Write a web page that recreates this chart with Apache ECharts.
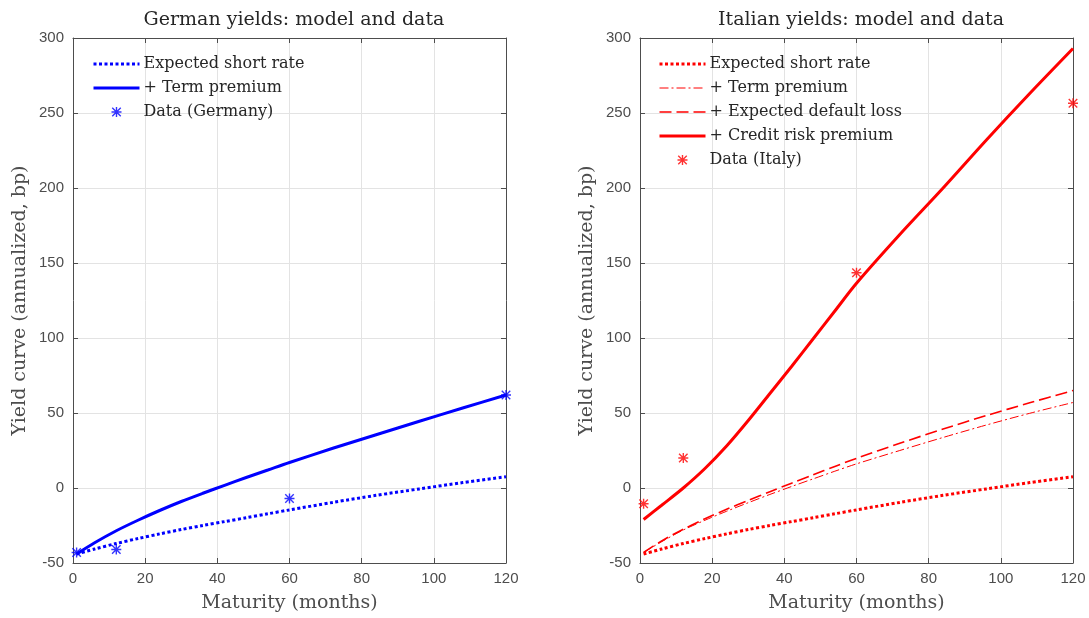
<!DOCTYPE html>
<html>
<head>
<meta charset="utf-8">
<style>
  html, body { margin: 0; padding: 0; background: #fff; }
  #chart { width: 1089px; height: 618px; }
</style>
<script src="https://cdn.jsdelivr.net/npm/echarts@6/dist/echarts.min.js"></script>
</head>
<body>
<div id="chart"></div>
<script>
// maturities (months) for the model curves
const maturities = [1, 6, 12, 18, 24, 30, 36, 42, 48, 54, 60, 72, 84, 96, 108, 120];

// Germany
const deShortRate = [-44, -40.7, -37, -33.7, -30.6, -27.7, -25, -22.4, -19.8, -17.2, -14.6, -9.6, -4.9, -0.6, 3.6, 7.5];
const deTermPremium = [-44, -36.5, -28.5, -21.5, -15, -9, -3.5, 1.8, 7, 12, 17, 26.5, 35.5, 44.5, 53.3, 62];

// Italy
const itShortRate = [-44, -40.7, -37, -33.7, -30.6, -27.7, -25, -22.4, -19.8, -17.2, -14.6, -9.6, -4.9, -0.6, 3.6, 7.5];
const itTermPremium = [-43, -35.8, -28, -21.5, -15.5, -9.8, -4.3, 1, 6.1, 11.2, 16.1, 25, 33.7, 42, 49.8, 57];
const itDefaultLoss = [-43, -35.3, -27.5, -20.5, -14.2, -8.3, -2.5, 3.2, 8.8, 14.4, 19.8, 29.8, 39.3, 48.3, 56.8, 65];
const itCreditPremium = [-21, -11.5, 0, 13, 28, 45, 63, 81, 99.5, 118, 136.5, 169, 200, 232, 263, 293];

// observed yields
const dataMaturities = [1, 12, 60, 120];
const deData = [-43, -41, -7, 62];
const itData = [-10.5, 20, 143.5, 256.5];

const xTicks = { min: 0, max: 120, interval: 20 };
const yTicks = { min: -50, max: 300, interval: 50 };

const pairs = (xs, ys) => xs.map((x, i) => [x, ys[i]]);

// asterisk marker ("+" and "x" on top of each other)
const star = 'path://M8.6,0L11.4,0L11.4,20L8.6,20Z M0,8.6L20,8.6L20,11.4L0,11.4Z ' +
  'M2.49,0.51L19.49,17.51L17.51,19.49L0.51,2.49Z ' +
  'M19.49,2.49L2.49,19.49L0.51,17.51L17.51,0.51Z';

const serif = 'DejaVu Serif';
const sans = 'Liberation Sans';
const axisGray = '#4d4d4d';

const chart = echarts.init(document.getElementById('chart'));

function xAxisFor(gridIndex, top) {
  return {
    type: 'value', gridIndex: gridIndex, position: top ? 'top' : 'bottom',
    min: xTicks.min, max: xTicks.max, interval: xTicks.interval,
    name: top ? '' : 'Maturity (months)',
    nameLocation: 'middle', nameGap: 31,
    nameTextStyle: { fontFamily: serif, fontSize: 19, color: axisGray },
    axisLine: { show: true, onZero: false, lineStyle: { color: axisGray } },
    axisTick: { show: true, inside: true, length: 5, lineStyle: { color: axisGray } },
    axisLabel: { show: !top, fontFamily: sans, fontSize: 15, color: axisGray, margin: 8 },
    splitLine: { show: !top, lineStyle: { color: '#e3e3e3' } }
  };
}

function yAxisFor(gridIndex, right) {
  return {
    type: 'value', gridIndex: gridIndex, position: right ? 'right' : 'left',
    min: yTicks.min, max: yTicks.max, interval: yTicks.interval,
    name: right ? '' : 'Yield curve (annualized, bp)',
    nameLocation: 'middle', nameGap: 43,
    nameTextStyle: { fontFamily: serif, fontSize: 19, color: axisGray },
    axisLine: { show: true, onZero: false, lineStyle: { color: axisGray } },
    axisTick: { show: true, inside: true, length: 5, lineStyle: { color: axisGray } },
    axisLabel: { show: !right, fontFamily: sans, fontSize: 15, color: axisGray, margin: 9 },
    splitLine: { show: !right, lineStyle: { color: '#e3e3e3' } }
  };
}

function curve(name, xi, ys, color, width, type) {
  return {
    name: name, type: 'line', xAxisIndex: xi, yAxisIndex: xi,
    data: pairs(maturities, ys), symbol: 'none', smooth: 0.3,
    lineStyle: { color: color, width: width, type: type },
    itemStyle: { color: color }, z: 3
  };
}

function points(name, xi, ys, color) {
  return {
    name: name, type: 'scatter', xAxisIndex: xi, yAxisIndex: xi,
    data: pairs(dataMaturities, ys), symbol: star, symbolSize: 10,
    itemStyle: { color: color }, clip: false, z: 4
  };
}

// line entries hide the legend's default circle; the data entry keeps its asterisk
function legendFor(left, lines, dataName) {
  const items = lines.map(l => ({ name: l[0], itemStyle: { opacity: 0 }, lineStyle: { width: l[1] } }));
  items.push({ name: dataName });
  return {
    orient: 'vertical', left: left, top: 56, padding: 0,
    itemWidth: 46, itemHeight: 10, itemGap: 8,
    data: items, selectedMode: false,
    textStyle: { fontFamily: serif, fontSize: 16, color: '#262626', lineHeight: 14, padding: [0, 0, 0, -1] }
  };
}

const option = {
  animation: false,
  title: [
    { text: 'German yields: model and data', left: 289, top: 6, textAlign: 'center',
      textStyle: { fontFamily: serif, fontSize: 19, fontWeight: 'normal', color: '#262626' } },
    { text: 'Italian yields: model and data', left: 856, top: 6, textAlign: 'center',
      textStyle: { fontFamily: serif, fontSize: 19, fontWeight: 'normal', color: '#262626' } }
  ],
  grid: [
    { left: 73, top: 38, width: 433, height: 525 },
    { left: 640, top: 38, width: 433, height: 525 }
  ],
  xAxis: [xAxisFor(0, false), xAxisFor(1, false), xAxisFor(0, true), xAxisFor(1, true)],
  yAxis: [yAxisFor(0, false), yAxisFor(1, false), yAxisFor(0, true), yAxisFor(1, true)],
  legend: [
    legendFor(92, [['Expected short rate ', 3], ['+ Term premium ', 3]], 'Data (Germany)'),
    legendFor(658, [['Expected short rate', 3], ['+ Term premium', 1],
      ['+ Expected default loss', 1.6], ['+ Credit risk premium', 3]], 'Data (Italy)')
  ],
  series: [
    curve('Expected short rate ', 0, deShortRate, '#0000ff', 3, [3, 2.5]),
    curve('+ Term premium ', 0, deTermPremium, '#0000ff', 3, 'solid'),
    points('Data (Germany)', 0, deData, '#0000ff'),
    curve('Expected short rate', 1, itShortRate, '#ff0000', 3, [3, 2.5]),
    curve('+ Term premium', 1, itTermPremium, '#ff0000', 1, [9, 3, 2, 3]),
    curve('+ Expected default loss', 1, itDefaultLoss, '#ff0000', 1.6, [12, 5]),
    curve('+ Credit risk premium', 1, itCreditPremium, '#ff0000', 3, 'solid'),
    points('Data (Italy)', 1, itData, '#ff0000')
  ]
};

chart.setOption(option);
</script>
</body>
</html>
